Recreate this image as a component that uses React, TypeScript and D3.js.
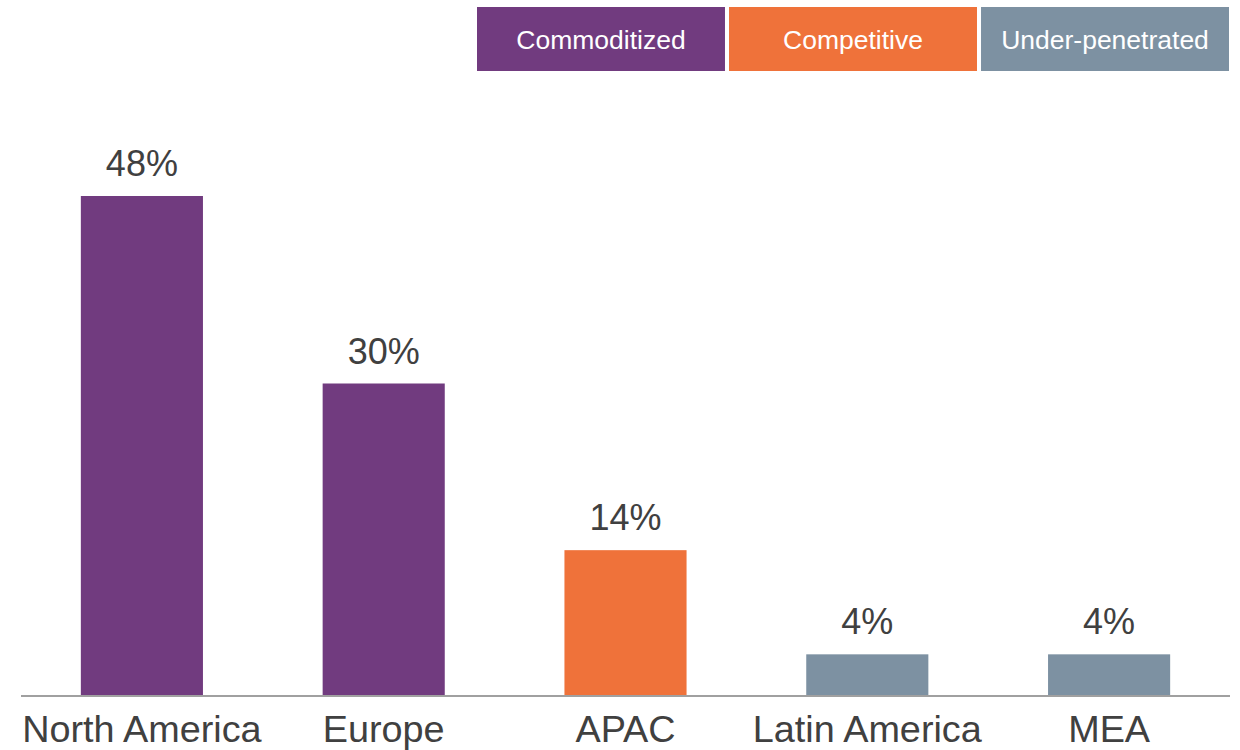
import React from "react";
import * as d3 from "d3";

const categories = ["North America", "Europe", "APAC", "Latin America", "MEA"];
const values = [48, 30, 14, 4, 4];
const groups = ["Commoditized", "Commoditized", "Competitive", "Under-penetrated", "Under-penetrated"];
const legendLabels = ["Commoditized", "Competitive", "Under-penetrated"];
const legendColors = ["#713B7F", "#EF723A", "#7D91A2"];

const W = 1240;
const H = 750;
const FONT = "'Liberation Sans', Arial, sans-serif";

export default function App() {
  const x = d3.scaleBand<string>().domain(categories).range([21, 1230]).paddingInner(0.495).paddingOuter(0.2475);
  const y = d3.scaleLinear().domain([0, 48]).range([696, 196]);
  const color = d3.scaleOrdinal<string, string>().domain(legendLabels).range(legendColors);
  const lx = d3.scaleBand<string>().domain(legendLabels).range([477, 1229]).paddingInner(0.016);

  return (
    <svg width={W} height={H} style={{ position: "absolute", left: 0, top: 0 }} fontFamily={FONT}>
      {legendLabels.map((l) => (
        <g key={l}>
          <rect x={lx(l)} y={7} width={lx.bandwidth()} height={64} fill={color(l)} />
          <text x={(lx(l) as number) + lx.bandwidth() / 2} y={49} textAnchor="middle" fontSize={26.5} fill="#fff">
            {l}
          </text>
        </g>
      ))}
      {categories.map((c, i) => (
        <g key={c}>
          <rect x={x(c)} y={y(values[i])} width={x.bandwidth()} height={y(0) - y(values[i])} fill={color(groups[i])} />
          <text x={(x(c) as number) + x.bandwidth() / 2} y={y(values[i]) - 20} textAnchor="middle" fontSize={36} fill="#404040">
            {values[i]}%
          </text>
          <text x={(x(c) as number) + x.bandwidth() / 2} y={742} textAnchor="middle" fontSize={37.8} fill="#404040">
            {c}
          </text>
        </g>
      ))}
      <line x1={21} x2={1230} y1={696} y2={696} stroke="#A0A0A0" strokeWidth={2} />
    </svg>
  );
}
